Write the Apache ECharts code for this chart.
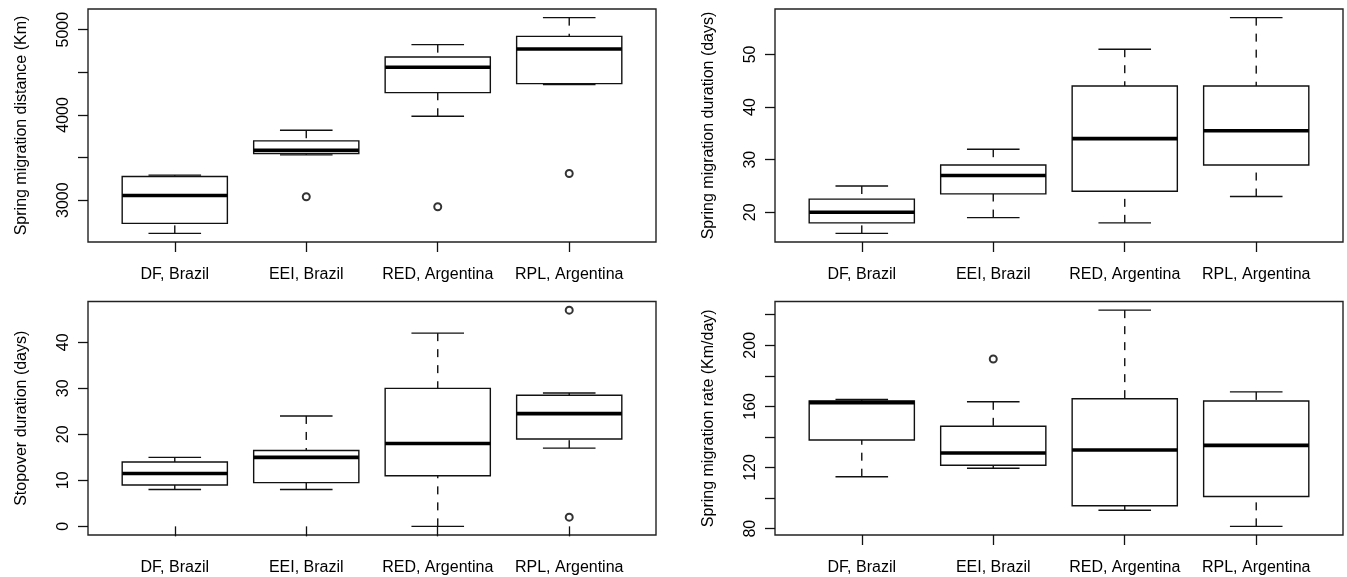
<!DOCTYPE html>
<html>
<head>
<meta charset="utf-8">
<script src="https://cdn.jsdelivr.net/npm/echarts@6/dist/echarts.min.js"></script>
<style>
html,body{margin:0;padding:0;background:#fff;}
#chart{width:1347px;height:577px;}
</style>
</head>
<body>
<div id="chart"></div>
<script>
// ---- data (box stats: [low whisker, Q1, median, Q3, high whisker]) ----
const categories = ['DF, Brazil', 'EEI, Brazil', 'RED, Argentina', 'RPL, Argentina'];

const distanceStats = [
  [2610, 2727, 3055, 3278, 3293],
  [3531, 3547, 3586, 3695, 3820],
  [3984, 4261, 4558, 4679, 4824],
  [4355, 4367, 4773, 4921, 5141]
];
const distanceOutliers = [[2, 3039], [3, 2922], [4, 3313]];
const distanceTicks = [3000, 3500, 4000, 4500, 5000];
const distanceLabels = [3000, 4000, 5000];

const durationStats = [
  [16, 18, 20, 22.5, 25],
  [19, 23.5, 27, 29, 32],
  [18, 24, 34, 44, 51],
  [23, 29, 35.5, 44, 57]
];
const durationOutliers = [];
const durationTicks = [20, 30, 40, 50];
const durationLabels = [20, 30, 40, 50];

const stopoverStats = [
  [8, 9, 11.5, 14, 15],
  [8, 9.5, 15, 16.5, 24],
  [0, 11, 18, 30, 42],
  [17, 19, 24.5, 28.5, 29]
];
const stopoverOutliers = [[4, 47], [4, 2]];
const stopoverTicks = [0, 10, 20, 30, 40];
const stopoverLabels = [0, 10, 20, 30, 40];

const rateStats = [
  [114, 138, 162.5, 163.5, 164.5],
  [119.5, 121.5, 129.5, 147, 163],
  [92, 95, 131.5, 165, 223],
  [81.5, 101, 134.5, 163.5, 169.5]
];
const rateOutliers = [[2, 191]];
const rateTicks = [80, 100, 120, 140, 160, 180, 200, 220];
const rateLabels = [80, 120, 160, 200];

const yTitles = [
  'Spring migration distance (Km)',
  'Spring migration duration (days)',
  'Stopover duration (days)',
  'Spring migration rate (Km/day)'
];

// ---- layout / style ----
const FONT = "'Liberation Sans', Arial, Helvetica, sans-serif";
const panels = [
  {stats: distanceStats, out: distanceOutliers, ticks: distanceTicks, labels: distanceLabels},
  {stats: durationStats, out: durationOutliers, ticks: durationTicks, labels: durationLabels},
  {stats: stopoverStats, out: stopoverOutliers, ticks: stopoverTicks, labels: stopoverLabels},
  {stats: rateStats, out: rateOutliers, ticks: rateTicks, labels: rateLabels}
];
const gridPos = [
  {left: 88, top: 9, width: 568, height: 233},
  {left: 775, top: 9, width: 568, height: 233},
  {left: 88, top: 301.5, width: 568, height: 233.5},
  {left: 775, top: 301.5, width: 568, height: 233.5}
];

function extent(p) {
  let lo = Infinity, hi = -Infinity;
  p.stats.forEach(s => { lo = Math.min(lo, s[0]); hi = Math.max(hi, s[4]); });
  p.out.forEach(o => { lo = Math.min(lo, o[1]); hi = Math.max(hi, o[1]); });
  const pad = (hi - lo) * 0.04;
  return [lo - pad, hi + pad];
}

function renderBox(params, api) {
  const x = api.value(0);
  const lo = api.coord([x, api.value(1)]);
  const q1 = api.coord([x, api.value(2)]);
  const md = api.coord([x, api.value(3)]);
  const q3 = api.coord([x, api.value(4)]);
  const hi = api.coord([x, api.value(5)]);
  const bw = api.size([0.8, 0])[0];
  const cw = bw / 2;
  const cx = lo[0];
  const thin = {stroke: '#111', lineWidth: 1.4, fill: null};
  const dash = {stroke: '#111', lineWidth: 1.4, lineDash: [8, 8], fill: null};
  return {
    type: 'group',
    children: [
      {type: 'line', shape: {x1: cx, y1: lo[1], x2: cx, y2: q1[1]}, style: dash},
      {type: 'line', shape: {x1: cx, y1: hi[1], x2: cx, y2: q3[1]}, style: dash},
      {type: 'line', shape: {x1: cx - cw / 2, y1: lo[1], x2: cx + cw / 2, y2: lo[1]}, style: thin},
      {type: 'line', shape: {x1: cx - cw / 2, y1: hi[1], x2: cx + cw / 2, y2: hi[1]}, style: thin},
      {type: 'rect', shape: {x: cx - bw / 2, y: q3[1], width: bw, height: q1[1] - q3[1]}, style: thin},
      {type: 'line', shape: {x1: cx - bw / 2, y1: md[1], x2: cx + bw / 2, y2: md[1]},
        style: {stroke: '#000', lineWidth: 3.6}}
    ]
  };
}

const grid = [], xAxis = [], yAxis = [], series = [];
panels.forEach((p, i) => {
  const ext = extent(p);
  grid.push(Object.assign({show: true, borderColor: '#222', borderWidth: 1.4,
    backgroundColor: 'transparent', containLabel: false}, gridPos[i]));
  xAxis.push({
    type: 'value', gridIndex: i, min: 0.34, max: 4.66,
    axisLine: {show: false},
    splitLine: {show: false},
    axisTick: {show: true, length: 10, inside: false, customValues: [1, 2, 3, 4],
      lineStyle: {color: '#111', width: 1.3}},
    axisLabel: {show: true, customValues: [1, 2, 3, 4], margin: 25,
      formatter: v => categories[Math.round(v) - 1],
      color: '#000', fontFamily: FONT, fontSize: 16}
  });
  yAxis.push({
    type: 'value', gridIndex: i, min: ext[0], max: ext[1],
    name: yTitles[i], nameLocation: 'middle', nameGap: 58, nameRotate: 90,
    nameTextStyle: {color: '#000', fontFamily: FONT, fontSize: 16},
    axisLine: {show: false},
    splitLine: {show: false},
    axisTick: {show: true, length: 10, inside: false, customValues: p.ticks,
      lineStyle: {color: '#111', width: 1.3}},
    axisLabel: {show: true, customValues: p.labels, rotate: 90, margin: 16,
      formatter: v => String(v),
      color: '#000', fontFamily: FONT, fontSize: 16}
  });
  series.push({
    type: 'custom', xAxisIndex: i, yAxisIndex: i,
    renderItem: renderBox, clip: false,
    encode: {x: 0, y: [1, 2, 3, 4, 5]},
    data: p.stats.map((s, k) => [k + 1].concat(s)),
    silent: true, animation: false
  });
  series.push({
    type: 'scatter', xAxisIndex: i, yAxisIndex: i,
    symbol: 'emptyCircle', symbolSize: 7,
    itemStyle: {color: '#000', borderColor: '#000', borderWidth: 1.3},
    data: p.out, silent: true, animation: false
  });
});

const chart = echarts.init(document.getElementById('chart'), null, {renderer: 'canvas'});
chart.setOption({
  animation: false,
  backgroundColor: '#fff',
  grid: grid, xAxis: xAxis, yAxis: yAxis, series: series
});
</script>
</body>
</html>
